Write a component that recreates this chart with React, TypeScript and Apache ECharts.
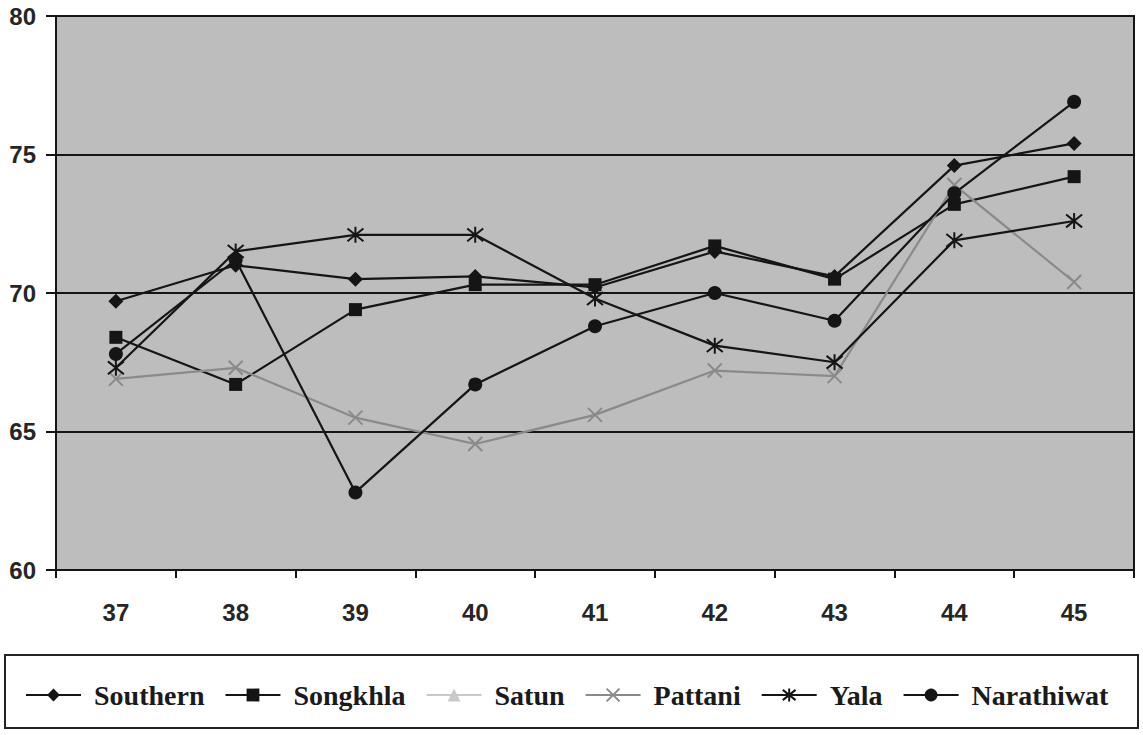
import React, { useEffect, useRef } from "react";
import * as echarts from "echarts";

const categories = ["37", "38", "39", "40", "41", "42", "43", "44", "45"];
const southern = [69.7, 71.0, 70.5, 70.6, 70.2, 71.5, 70.6, 74.6, 75.4];
const songkhla = [68.4, 66.7, 69.4, 70.3, 70.3, 71.7, 70.5, 73.2, 74.2];
const satun: (number | null)[] = [null, null, null, null, null, null, null, null, null];
const pattani = [66.9, 67.3, 65.5, 64.55, 65.6, 67.2, 67.0, 73.9, 70.4];
const yala = [67.3, 71.5, 72.1, 72.1, 69.8, 68.1, 67.5, 71.9, 72.6];
const narathiwat = [67.8, 71.2, 62.8, 66.7, 68.8, 70.0, 69.0, 73.6, 76.9];
const yTicks = { min: 60, max: 80, interval: 5 };

const DARK = "#151515";
const GRAYLINE = "#8a8a8a";
const SATUN = "#c9c9c9";

const ASTERISK = "path://M1,1L9,9M9,1L1,9M5,0L5,10";
const CROSS = "path://M0,0L10,10M10,0L0,10";

export default function App() {
  const ref = useRef<HTMLDivElement>(null);
  useEffect(() => {
    if (!ref.current) return;
    const chart = echarts.init(ref.current, undefined, { renderer: "svg" });
    const mk = (name: string, data: (number | null)[], color: string, symbol: string, size: number, stroke = false) => ({
      name,
      type: "line",
      data,
      symbol,
      symbolSize: size,
      showSymbol: true,
      lineStyle: { color, width: 2.2 },
      itemStyle: stroke
        ? { color: color, borderColor: color, borderWidth: 2 }
        : { color, borderColor: color, borderWidth: 0 },
      emphasis: { disabled: true },
      connectNulls: false,
    });
    chart.setOption({
      animation: false,
      backgroundColor: "#ffffff",
      grid: {
        left: 56,
        top: 16,
        width: 1078,
        height: 554,
        show: true,
        backgroundColor: "#bdbdbd",
        borderColor: DARK,
        borderWidth: 2,
      },
      xAxis: {
        type: "category",
        data: categories,
        boundaryGap: true,
        axisLine: { lineStyle: { color: DARK, width: 2 } },
        axisTick: { show: true, length: 8, lineStyle: { color: DARK, width: 2 } },
        axisLabel: {
          fontFamily: "Liberation Sans, Arial, sans-serif",
          fontWeight: "bold",
          fontSize: 24,
          color: "#262626",
          margin: 30,
        },
        splitLine: { show: false },
      },
      yAxis: {
        type: "value",
        min: yTicks.min,
        max: yTicks.max,
        interval: yTicks.interval,
        axisLine: { show: true, lineStyle: { color: DARK, width: 2 } },
        axisTick: { show: true, length: 10, lineStyle: { color: DARK, width: 2 } },
        axisLabel: {
          fontFamily: "Liberation Sans, Arial, sans-serif",
          fontWeight: "bold",
          fontSize: 24,
          color: "#262626",
          margin: 20,
        },
        splitLine: { show: true, lineStyle: { color: DARK, width: 2 } },
      },
      graphic: [
        {
          type: "rect",
          silent: true,
          shape: { x: 5, y: 655, width: 1133, height: 73 },
          style: { fill: "transparent", stroke: "#222", lineWidth: 2 },
        },
      ],
      legend: {
        top: 676,
        left: 20,
        itemWidth: 55,
        itemHeight: 16,
        itemGap: 20,
        textStyle: {
          fontFamily: "Liberation Serif, Times New Roman, serif",
          fontWeight: "bold",
          fontSize: 28,
          color: "#1a1a1a",
          padding: [0, 0, 0, 8],
        },
        data: ["Southern", "Songkhla", "Satun", "Pattani", "Yala", "Narathiwat"],
      },
      series: [
        mk("Southern", southern, DARK, "diamond", 15),
        mk("Songkhla", songkhla, DARK, "rect", 13),
        mk("Satun", satun, SATUN, "triangle", 13),
        mk("Pattani", pattani, GRAYLINE, CROSS, 14, true),
        mk("Yala", yala, DARK, ASTERISK, 16, true),
        mk("Narathiwat", narathiwat, DARK, "circle", 14),
      ],
    });
    return () => chart.dispose();
  }, []);
  return (
    <div
      ref={ref}
      style={{ position: "fixed", left: 0, top: 0, width: 1143, height: 735 }}
    />
  );
}
